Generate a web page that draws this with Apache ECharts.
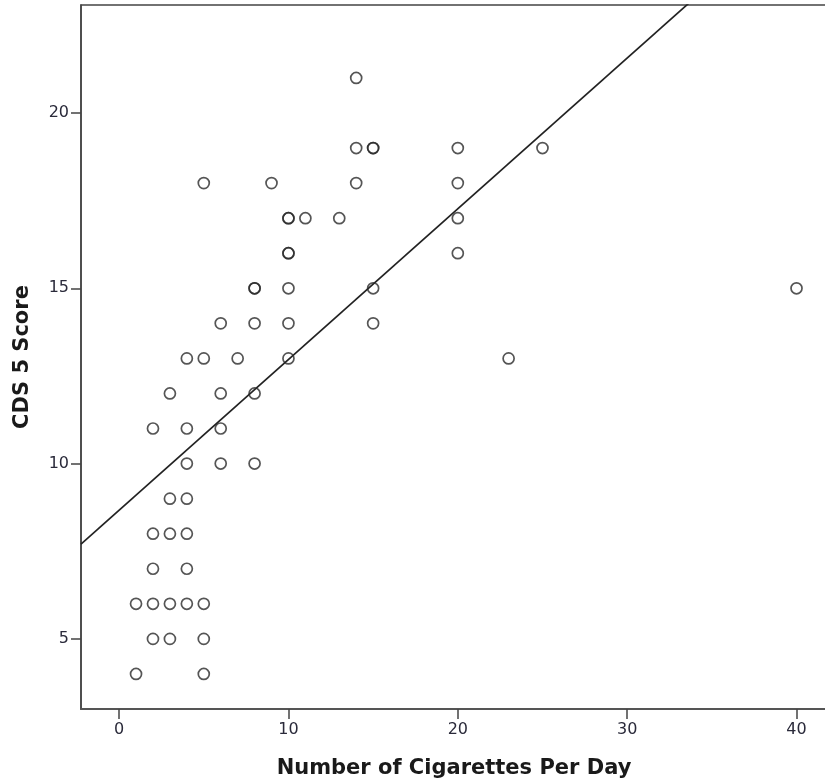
<!DOCTYPE html>
<html>
<head>
<meta charset="utf-8">
<script src="https://cdn.jsdelivr.net/npm/echarts@6/dist/echarts.min.js"></script>
<style>
html,body{margin:0;padding:0;background:#fff;}
#chart{width:825px;height:782px;}
</style>
</head>
<body>
<div id="chart"></div>
<script>
// cigarettes per day vs CDS 5 score (repeated pairs = overlapping circles)
var cigarettes = [1,1, 2,2,2,2,2, 3,3,3,3,3, 4,4,4,4,4,4,4, 5,5,5,5,5, 6,6,6,6, 7,
	8,8,8,8,8, 9, 10,10,10,10,10,10,10, 11,13, 14,14,14, 15,15,15,15, 20,20,20,20, 23,25,40];
var cdsScore = [4,6, 5,6,7,8,11, 5,6,8,9,12, 6,7,8,9,10,11,13, 4,5,6,13,18, 10,11,12,14, 13,
	10,12,14,15,15, 18, 13,14,15,16,16,17,17, 17,17, 18,19,21, 14,15,19,19, 16,17,18,19, 13,19,15];

// fit line end points
var fitX = [-2.25, 41.8];
var fitY = [7.70, 26.64];

var xTicks = [0, 10, 20, 30, 40];
var yTicks = [5, 10, 15, 20];

var points = cigarettes.map(function(c, i){ return [c, cdsScore[i]]; });
var fitLine = fitX.map(function(x, i){ return [x, fitY[i]]; });

var myChart = echarts.init(document.getElementById('chart'));
var labelFont = {
	color : '#2a2a3a',
	fontSize : 16,
	fontFamily : 'DejaVu Sans'
};
var nameFont = {
	fontSize : 21,
	fontWeight : 'bold',
	color : '#1a1a1a',
	fontFamily : 'DejaVu Sans'
};
var option = {
	animation : false,
	grid : {
		left : 81,
		right : -2,
		top : 5,
		bottom : 73,
		outerBoundsMode : 'none',
		show : true,
		borderColor : '#444',
		borderWidth : 1.5
	},
	xAxis : {
		type : 'value',
		min : -2.25,
		max : 41.8,
		name : 'Number of Cigarettes Per Day',
		nameLocation : 'middle',
		nameGap : 49,
		nameTextStyle : nameFont,
		splitLine : { show : false },
		axisLine : { show : true, onZero : false, lineStyle : { color : '#555', width : 2 } },
		axisTick : { show : true, length : 10, customValues : xTicks, lineStyle : { color : '#444', width : 1.5 } },
		axisLabel : Object.assign({ customValues : xTicks, margin : 13 }, labelFont)
	},
	yAxis : {
		type : 'value',
		min : 3.0,
		max : 23.08,
		name : 'CDS 5 Score',
		nameLocation : 'middle',
		nameGap : 48,
		nameTextStyle : nameFont,
		splitLine : { show : false },
		axisLine : { show : true, onZero : false, lineStyle : { color : '#444', width : 1.5 } },
		axisTick : { show : true, length : 10, customValues : yTicks, lineStyle : { color : '#444', width : 1.5 } },
		axisLabel : Object.assign({ customValues : yTicks, margin : 12 }, labelFont)
	},
	series : [ {
		type : 'scatter',
		data : points,
		symbol : 'circle',
		symbolSize : 11,
		itemStyle : {
			color : 'rgba(0,0,0,0)',
			borderColor : '#2a2a2a',
			borderWidth : 1.7
		},
		z : 3
	}, {
		type : 'line',
		data : fitLine,
		symbol : 'none',
		clip : true,
		silent : true,
		lineStyle : { color : '#222', width : 1.7 },
		z : 2
	} ]
};
myChart.setOption(option);
</script>
</body>
</html>
